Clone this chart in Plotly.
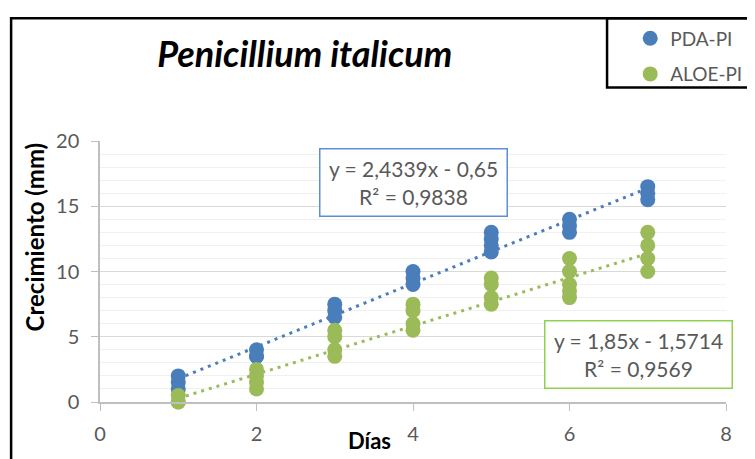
import plotly.graph_objects as go

# ---- data ----
pda_days = [1, 1, 1, 2, 2, 2, 3, 3, 3, 4, 4, 4, 5, 5, 5, 5, 6, 6, 6, 7, 7, 7]
pda_growth = [2, 1.5, 1, 4, 3.5, 3.5, 7.5, 7, 6.5, 10, 9.5, 9, 13, 12.5, 12, 11.5, 14, 13.5, 13, 16.5, 16, 15.5]

aloe_days = [1, 1, 1, 2, 2, 2, 2, 3, 3, 3, 3, 4, 4, 4, 4, 5, 5, 5, 5, 6, 6, 6, 6, 6, 7, 7, 7, 7]
aloe_growth = [0.5, 0, 0, 2.5, 2, 1.5, 1, 5.5, 5, 4, 3.5, 7.5, 7, 6, 5.5, 9.5, 9, 8, 7.5, 11, 10, 9, 8.5, 8, 13, 12, 11, 10]

pda_slope, pda_intercept, pda_r2 = 2.4339, -0.65, 0.9838
aloe_slope, aloe_intercept, aloe_r2 = 1.85, -1.5714, 0.9569
trend_days = [1, 7]

x_ticks = [0, 2, 4, 6, 8]
y_ticks = [0, 5, 10, 15, 20]

BLUE = "#4a7ebb"
GREEN = "#9bbb59"
FONT = "Lato"
GRAY = "#595959"


def fmt(v):
    return f"{v}".replace(".", ",")


fig = go.Figure()

fig.add_trace(go.Scatter(
    x=trend_days, y=[pda_slope * d + pda_intercept for d in trend_days],
    mode="lines", line=dict(color=BLUE, width=3, dash="3px,5px"),
    showlegend=False, hoverinfo="skip"))
fig.add_trace(go.Scatter(
    x=trend_days, y=[aloe_slope * d + aloe_intercept for d in trend_days],
    mode="lines", line=dict(color=GREEN, width=3, dash="3px,5px"),
    showlegend=False, hoverinfo="skip"))

fig.add_trace(go.Scatter(
    x=pda_days, y=pda_growth, mode="markers", name="PDA-PI",
    marker=dict(color=BLUE, size=15), cliponaxis=False, legendgroup="a"))
fig.add_trace(go.Scatter(
    x=aloe_days, y=aloe_growth, mode="markers", name="ALOE-PI",
    marker=dict(color=GREEN, size=15), cliponaxis=False, legendgroup="b"))

pda_text = f"y = {fmt(pda_slope)}x - {fmt(abs(pda_intercept))}<br>R² = {fmt(pda_r2)}"
aloe_text = f"y = {fmt(aloe_slope)}x - {fmt(abs(aloe_intercept))}<br>R² = {fmt(aloe_r2)}"

annotations = [
    dict(x=4.01, y=16.8, xref="x", yref="y", text=pda_text, showarrow=False,
         font=dict(family=FONT, size=21, color=GRAY), align="center",
         bordercolor="#5b8fd6", borderwidth=1.5, borderpad=2, bgcolor="white",
         width=182, height=62),
    dict(x=6.88, y=3.62, xref="x", yref="y", text=aloe_text, showarrow=False,
         font=dict(family=FONT, size=21, color=GRAY), align="center",
         bordercolor="#8fd14f", borderwidth=1.5, borderpad=2, bgcolor="white",
         width=182, height=62),
    dict(x=-0.104, y=0.634, xref="paper", yref="paper", text="<b>Crecimiento (mm)</b>",
         textangle=-90, showarrow=False, xanchor="center", yanchor="middle",
         font=dict(family=FONT, size=24, color="black")),
    dict(x=0.431, y=-0.146, xref="paper", yref="paper", text="<b>Días</b>",
         showarrow=False, xanchor="center", yanchor="middle",
         font=dict(family=FONT, size=22, color="black")),
]

shapes = [
    # outer chart border
    dict(type="rect", xref="paper", yref="paper", x0=-0.142, x1=1.2, y0=-0.5, y1=1.470,
         line=dict(color="black", width=2.5), layer="above"),
    # legend box
    dict(type="rect", xref="paper", yref="paper", x0=0.810, x1=1.2, y0=1.205, y1=1.470,
         line=dict(color="black", width=2.5), layer="above"),
]

# the page adds an 8px body margin, so margins are shifted to compensate
fig.update_layout(
    width=755, height=459,
    margin=dict(l=92, r=37, t=126, b=65),
    paper_bgcolor="white", plot_bgcolor="white",
    title=dict(text="<b><i>Penicillium italicum</i></b>", x=0.393, y=0.898,
               xref="container", yref="container", xanchor="center", yanchor="middle",
               font=dict(family=FONT, size=36, color="black")),
    font=dict(family=FONT, color=GRAY),
    showlegend=True,
    legend=dict(x=0.847, y=1.466, xanchor="left", yanchor="top", bgcolor="rgba(0,0,0,0)",
                font=dict(family=FONT, size=19, color=GRAY), tracegroupgap=8,
                itemwidth=30),
    annotations=annotations,
    shapes=shapes,
)

fig.update_xaxes(range=[0, 8], tickvals=x_ticks, showgrid=False, zeroline=False,
                 showline=True, linecolor="#bfbfbf", linewidth=1.5,
                 ticks="outside", ticklen=7, tickcolor="#bfbfbf",
                 tickfont=dict(family=FONT, size=20, color=GRAY), ticklabelstandoff=6)
fig.update_yaxes(range=[0, 20], tickvals=y_ticks, showgrid=True, gridcolor="#d9d9d9",
                 zeroline=False, showline=True, linecolor="#bfbfbf", linewidth=1.5,
                 ticks="outside", ticklen=7, tickcolor="#bfbfbf",
                 tickfont=dict(family=FONT, size=20, color=GRAY), ticklabelstandoff=8,
                 minor=dict(dtick=1, showgrid=True, gridcolor="#f0f0f0", ticks=""))

fig.write_html("out.html")
